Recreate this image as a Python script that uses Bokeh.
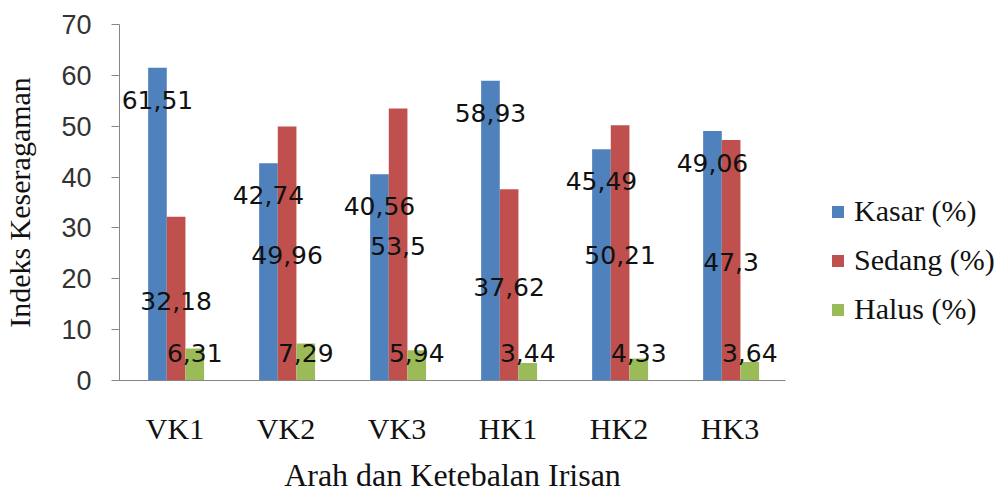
from bokeh.plotting import figure
from bokeh.models import FactorRange, Range1d, Legend, LegendItem, ColumnDataSource, FixedTicker
from bokeh.transform import dodge
from bokeh.core.properties import value
from bokeh.embed import file_html
from bokeh.resources import INLINE

categories = ["VK1", "VK2", "VK3", "HK1", "HK2", "HK3"]
kasar = [61.51, 42.74, 40.56, 58.93, 45.49, 49.06]
sedang = [32.18, 49.96, 53.5, 37.62, 50.21, 47.3]
halus = [6.31, 7.29, 5.94, 3.44, 4.33, 3.64]
series_names = ["Kasar (%)", "Sedang (%)", "Halus (%)"]
y_ticks = [0, 10, 20, 30, 40, 50, 60, 70]
colors = ["#4F81BD", "#C0504D", "#9BBB59"]


def fmt(v):
    return ("%g" % v).replace(".", ",")


src = ColumnDataSource(dict(
    cat=categories,
    kasar=kasar, sedang=sedang, halus=halus,
    kasar_lbl=[fmt(v) for v in kasar],
    sedang_lbl=[fmt(v) for v in sedang],
    halus_lbl=[fmt(v) for v in halus],
    sedang_mid=[v / 2 for v in sedang],
    zero=[0] * len(categories),
))

p = figure(x_range=FactorRange(*categories), y_range=Range1d(0, 70),
           frame_width=666, frame_height=356, output_backend="svg", toolbar_location=None,
           min_border_left=119, min_border_right=218, min_border_top=24, min_border_bottom=117)
p.outline_line_color = None
p.xgrid.grid_line_color = None
p.ygrid.grid_line_color = None
p.background_fill_color = "white"

bw = 0.168
offs = [-0.158, 0.01, 0.178]
renderers = []
for col, off, c in zip(["kasar", "sedang", "halus"], offs, colors):
    r = p.vbar(x=dodge("cat", off, range=p.x_range), top=col, width=bw, bottom=0,
               source=src, fill_color=c, line_color=None)
    renderers.append(r)

lbl_kw = dict(source=src, text_align="center", text_baseline="middle",
              text_font=value("DejaVu Sans"), text_font_size="25px", text_color="#111111")
p.text(x=dodge("cat", offs[0], range=p.x_range), y="kasar", text="kasar_lbl", y_offset=32, **lbl_kw)
p.text(x=dodge("cat", offs[1], range=p.x_range), y="sedang_mid", text="sedang_lbl", y_offset=2, **lbl_kw)
p.text(x=dodge("cat", offs[2], range=p.x_range), y="zero", text="halus_lbl", y_offset=-28, **lbl_kw)

ya = p.yaxis[0]
ya.ticker = FixedTicker(ticks=y_ticks)
ya.axis_line_color = "#868686"
ya.major_tick_line_color = "#868686"
ya.major_tick_out = 8
ya.major_tick_in = 0
ya.minor_tick_line_color = None
ya.major_label_text_font = "Liberation Sans"
ya.major_label_text_font_size = "27px"
ya.major_label_text_color = "#333333"
ya.major_label_standoff = 20
ya.axis_label = "Indeks Keseragaman"
ya.axis_label_text_font = "Liberation Serif"
ya.axis_label_text_font_size = "30px"
ya.axis_label_text_font_style = "normal"
ya.axis_label_text_color = "#111111"
ya.axis_label_standoff = 22

xa = p.xaxis[0]
xa.axis_line_color = "#868686"
xa.major_tick_line_color = None
xa.major_tick_out = 0
xa.major_tick_in = 0
xa.minor_tick_line_color = None
xa.major_label_text_font = "Liberation Serif"
xa.major_label_text_font_size = "30px"
xa.major_label_text_color = "#111111"
xa.major_label_standoff = 31
xa.axis_label = "Arah dan Ketebalan Irisan"
xa.axis_label_text_font = "Liberation Serif"
xa.axis_label_text_font_size = "32px"
xa.axis_label_text_font_style = "normal"
xa.axis_label_text_color = "#111111"
xa.axis_label_standoff = 9

legend = Legend(items=[LegendItem(label=n, renderers=[r]) for n, r in zip(series_names, renderers)],
                location=(45, 54), orientation="vertical",
                label_text_font="Liberation Serif", label_text_font_size="30px",
                label_text_color="#111111",
                glyph_width=15, glyph_height=15, label_standoff=9, spacing=15,
                padding=0, margin=0, border_line_color=None, background_fill_alpha=0)
p.add_layout(legend, "right")

open("out.html", "w").write(file_html(p, INLINE))
